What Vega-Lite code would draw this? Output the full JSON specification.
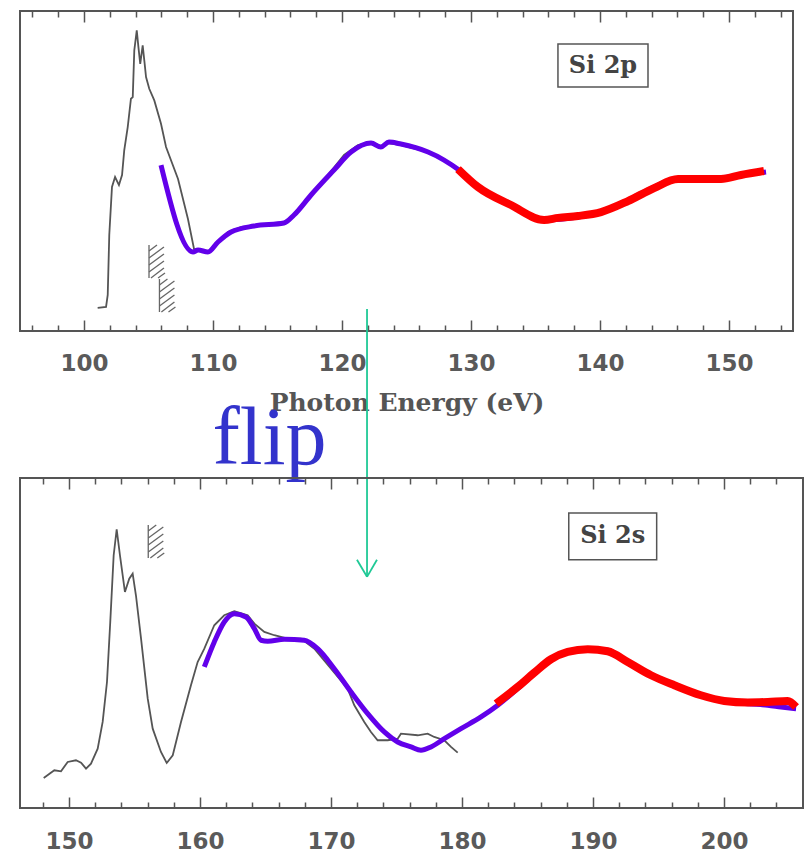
{
  "$schema": "https://vega.github.io/schema/vega-lite/v6.json",
  "padding": {"left": 19, "top": 9, "right": 0, "bottom": 0},
  "background": "white",
  "config": {"view": {"stroke": "#555", "strokeWidth": 2}},
  "bounds": "flush",
  "spacing": 147,
  "datasets": {
    "top_exp": [
      {"energy": 101.06, "intensity": 7.57}, {"energy": 101.71, "intensity": 7.89}, {"energy": 101.84, "intensity": 11.67},
      {"energy": 101.96, "intensity": 30.6}, {"energy": 102.17, "intensity": 45.74}, {"energy": 102.41, "intensity": 48.9},
      {"energy": 102.71, "intensity": 46.37}, {"energy": 102.95, "intensity": 49.5}, {"energy": 103.12, "intensity": 57.32},
      {"energy": 103.39, "intensity": 64.67}, {"energy": 103.64, "intensity": 73.6}, {"energy": 103.78, "intensity": 74.13},
      {"energy": 103.9, "intensity": 88.86}, {"energy": 104.09, "intensity": 95.17}, {"energy": 104.22, "intensity": 89.9},
      {"energy": 104.36, "intensity": 84.64}, {"energy": 104.55, "intensity": 90.44}, {"energy": 104.69, "intensity": 85.17},
      {"energy": 104.81, "intensity": 80.44}, {"energy": 105.06, "intensity": 76.75}, {"energy": 105.45, "intensity": 73.09},
      {"energy": 105.97, "intensity": 65.71}, {"energy": 106.36, "intensity": 58.36}, {"energy": 107.29, "intensity": 48.26},
      {"energy": 108.06, "intensity": 35.65}, {"energy": 108.53, "intensity": 26.18}, {"energy": 109.07, "intensity": 25.87},
      {"energy": 109.61, "intensity": 25.24}, {"energy": 110.39, "intensity": 28.39}, {"energy": 111.16, "intensity": 31.55},
      {"energy": 112.17, "intensity": 33.12}, {"energy": 113.72, "intensity": 33.75}, {"energy": 115.5, "intensity": 34.7},
      {"energy": 116.05, "intensity": 35.65}, {"energy": 117.6, "intensity": 43.22}, {"energy": 118.91, "intensity": 49.53},
      {"energy": 120.16, "intensity": 55.84}, {"energy": 121.24, "intensity": 58.99}, {"energy": 122.25, "intensity": 59.94},
      {"energy": 123.02, "intensity": 58.68}, {"energy": 123.57, "intensity": 59.62}, {"energy": 124.57, "intensity": 58.99},
      {"energy": 126.67, "intensity": 56.78}, {"energy": 127.91, "intensity": 54.26}, {"energy": 129.07, "intensity": 51.1},
      {"energy": 130.54, "intensity": 45.74}, {"energy": 133.1, "intensity": 40.06}, {"energy": 135.66, "intensity": 35.33},
      {"energy": 138.29, "intensity": 36.28}, {"energy": 140.08, "intensity": 37.85}, {"energy": 142.17, "intensity": 41.64},
      {"energy": 144.19, "intensity": 45.74}, {"energy": 145.74, "intensity": 48.26}, {"energy": 147.05, "intensity": 48.58},
      {"energy": 149.15, "intensity": 48.58}, {"energy": 150.93, "intensity": 49.53}, {"energy": 152.6, "intensity": 50.4}
    ],
    "top_fit": [
      {"energy": 105.97, "intensity": 52.68}, {"energy": 108.45, "intensity": 25.24}, {"energy": 108.84, "intensity": 25.87},
      {"energy": 109.61, "intensity": 25.24}, {"energy": 110.39, "intensity": 28.39}, {"energy": 111.4, "intensity": 31.55},
      {"energy": 113.18, "intensity": 33.44}, {"energy": 115.5, "intensity": 34.38}, {"energy": 116.28, "intensity": 36.91},
      {"energy": 117.6, "intensity": 43.22}, {"energy": 119.38, "intensity": 51.1}, {"energy": 120.7, "intensity": 56.78},
      {"energy": 122.25, "intensity": 59.62}, {"energy": 123.02, "intensity": 58.36}, {"energy": 123.64, "intensity": 59.94},
      {"energy": 124.57, "intensity": 59.31}, {"energy": 126.67, "intensity": 56.78}, {"energy": 127.91, "intensity": 54.26},
      {"energy": 129.07, "intensity": 51.1}, {"energy": 130.54, "intensity": 45.74}, {"energy": 133.1, "intensity": 40.06},
      {"energy": 135.66, "intensity": 35.33}, {"energy": 138.29, "intensity": 36.28}, {"energy": 140.08, "intensity": 37.85},
      {"energy": 142.17, "intensity": 41.64}, {"energy": 144.19, "intensity": 45.74}, {"energy": 145.74, "intensity": 48.26},
      {"energy": 147.05, "intensity": 48.58}, {"energy": 149.15, "intensity": 48.58}, {"energy": 150.93, "intensity": 49.53},
      {"energy": 152.87, "intensity": 50.47}
    ],
    "top_red": [
      {"energy": 128.99, "intensity": 51.42}, {"energy": 130.54, "intensity": 45.74}, {"energy": 133.1, "intensity": 40.06},
      {"energy": 135.66, "intensity": 35.33}, {"energy": 136.74, "intensity": 36.0}, {"energy": 138.29, "intensity": 36.6},
      {"energy": 140.08, "intensity": 37.85}, {"energy": 142.17, "intensity": 41.3}, {"energy": 144.19, "intensity": 45.4},
      {"energy": 146.05, "intensity": 48.26}, {"energy": 147.29, "intensity": 48.26}, {"energy": 149.38, "intensity": 48.26},
      {"energy": 150.93, "intensity": 49.53}, {"energy": 152.71, "intensity": 50.79}
    ],
    "top_rules": [
      {"kind": "hatch", "energy": 105.04, "intensity": 27.44, "energy2": 105.04, "intensity2": 17.03},
      {"kind": "hatch", "energy": 105.04, "intensity": 25.55, "energy2": 105.66, "intensity2": 27.44},
      {"kind": "hatch", "energy": 105.04, "intensity": 23.34, "energy2": 106.2, "intensity2": 26.81},
      {"kind": "hatch", "energy": 105.04, "intensity": 21.14, "energy2": 106.2, "intensity2": 24.61},
      {"kind": "hatch", "energy": 105.04, "intensity": 18.93, "energy2": 106.2, "intensity2": 22.4},
      {"kind": "hatch", "energy": 105.19, "intensity": 17.03, "energy2": 106.2, "intensity2": 20.19},
      {"kind": "hatch", "energy": 105.74, "intensity": 17.03, "energy2": 106.28, "intensity2": 18.61},
      {"kind": "hatch", "energy": 105.85, "intensity": 16.71, "energy2": 105.85, "intensity2": 6.3},
      {"kind": "hatch", "energy": 105.85, "intensity": 14.82, "energy2": 106.47, "intensity2": 16.71},
      {"kind": "hatch", "energy": 105.85, "intensity": 12.61, "energy2": 107.01, "intensity2": 16.08},
      {"kind": "hatch", "energy": 105.85, "intensity": 10.41, "energy2": 107.01, "intensity2": 13.88},
      {"kind": "hatch", "energy": 105.85, "intensity": 8.2, "energy2": 107.01, "intensity2": 11.67},
      {"kind": "hatch", "energy": 106.0, "intensity": 6.3, "energy2": 107.01, "intensity2": 9.46},
      {"kind": "hatch", "energy": 106.55, "intensity": 6.3, "energy2": 107.09, "intensity2": 7.88},
      {"kind": "arrow", "energy": 121.94, "intensity": 7.26, "energy2": 121.94, "intensity2": -77.29},
      {"kind": "arrow", "energy": 121.16, "intensity": -71.92, "energy2": 121.94, "intensity2": -77.29},
      {"kind": "arrow", "energy": 122.71, "intensity": -71.92, "energy2": 121.94, "intensity2": -77.29}
    ],
    "top_box": [{"energy": 136.74, "intensity": 90.85, "energy2": 143.72, "intensity2": 77.29, "label": "Si 2p"}],
    "top_note": [{"energy": 114.38, "intensity": -41.64, "label": "flip"}],
    "bot_exp": [
      {"energy": 148.07, "intensity": 10.3}, {"energy": 148.88, "intensity": 12.64}, {"energy": 149.39, "intensity": 12.33},
      {"energy": 149.9, "intensity": 15.15}, {"energy": 150.53, "intensity": 15.67}, {"energy": 150.92, "intensity": 14.94},
      {"energy": 151.3, "intensity": 13.12}, {"energy": 151.68, "intensity": 14.64}, {"energy": 152.19, "intensity": 19.18},
      {"energy": 152.57, "intensity": 27.27}, {"energy": 152.9, "intensity": 39.39}, {"energy": 153.15, "intensity": 57.58},
      {"energy": 153.41, "intensity": 77.79}, {"energy": 153.64, "intensity": 85.67}, {"energy": 153.89, "intensity": 77.79},
      {"energy": 154.27, "intensity": 66.67}, {"energy": 154.6, "intensity": 70.7}, {"energy": 154.86, "intensity": 72.21},
      {"energy": 155.11, "intensity": 65.67}, {"energy": 155.5, "intensity": 52.52}, {"energy": 156.01, "intensity": 34.33},
      {"energy": 156.39, "intensity": 25.24}, {"energy": 157.02, "intensity": 18.18}, {"energy": 157.46, "intensity": 14.85},
      {"energy": 157.92, "intensity": 17.18}, {"energy": 158.55, "intensity": 27.27}, {"energy": 159.31, "intensity": 38.39},
      {"energy": 159.82, "intensity": 45.45}, {"energy": 160.33, "intensity": 49.48}, {"energy": 161.09, "intensity": 56.58},
      {"energy": 161.85, "intensity": 59.61}, {"energy": 162.62, "intensity": 60.82}, {"energy": 163.64, "intensity": 59.61},
      {"energy": 164.15, "intensity": 57.06}, {"energy": 164.91, "intensity": 54.55}, {"energy": 165.67, "intensity": 53.55},
      {"energy": 166.69, "intensity": 52.52}, {"energy": 167.71, "intensity": 52.52}, {"energy": 168.73, "intensity": 49.48},
      {"energy": 170.0, "intensity": 43.42}, {"energy": 171.27, "intensity": 37.36}, {"energy": 171.78, "intensity": 32.33},
      {"energy": 172.54, "intensity": 27.27}, {"energy": 173.05, "intensity": 24.24}, {"energy": 173.56, "intensity": 21.73},
      {"energy": 174.33, "intensity": 21.73}, {"energy": 175.09, "intensity": 22.21}, {"energy": 175.34, "intensity": 23.73},
      {"energy": 176.62, "intensity": 23.24}, {"energy": 177.38, "intensity": 23.73}, {"energy": 177.88, "intensity": 22.73},
      {"energy": 178.65, "intensity": 21.73}, {"energy": 179.16, "intensity": 19.7}, {"energy": 179.67, "intensity": 17.97}
    ],
    "bot_fit": [
      {"energy": 160.33, "intensity": 43.94}, {"energy": 161.09, "intensity": 51.52}, {"energy": 161.85, "intensity": 57.58},
      {"energy": 162.62, "intensity": 60.09}, {"energy": 163.51, "intensity": 59.09}, {"energy": 164.15, "intensity": 55.55},
      {"energy": 164.66, "intensity": 52.03}, {"energy": 165.17, "intensity": 51.73}, {"energy": 166.44, "intensity": 52.33},
      {"energy": 167.96, "intensity": 52.03}, {"energy": 168.98, "intensity": 49.48}, {"energy": 170.25, "intensity": 43.42},
      {"energy": 171.53, "intensity": 36.36}, {"energy": 172.8, "intensity": 29.79}, {"energy": 174.07, "intensity": 24.24},
      {"energy": 175.09, "intensity": 21.21}, {"energy": 176.11, "intensity": 19.7}, {"energy": 176.87, "intensity": 18.7},
      {"energy": 177.63, "intensity": 19.7}, {"energy": 178.65, "intensity": 22.21}, {"energy": 179.92, "intensity": 25.24},
      {"energy": 181.45, "intensity": 28.79}, {"energy": 182.73, "intensity": 32.33}, {"energy": 184.25, "intensity": 37.36},
      {"energy": 185.52, "intensity": 41.91}, {"energy": 186.79, "intensity": 45.97}, {"energy": 188.07, "intensity": 48.48},
      {"energy": 189.6, "intensity": 49.48}, {"energy": 191.12, "intensity": 49.0}, {"energy": 192.65, "intensity": 45.45},
      {"energy": 194.43, "intensity": 41.42}, {"energy": 196.21, "intensity": 38.39}, {"energy": 198.24, "intensity": 35.36},
      {"energy": 200.02, "intensity": 33.55}, {"energy": 201.81, "intensity": 32.82}, {"energy": 203.34, "intensity": 32.33},
      {"energy": 204.35, "intensity": 31.82}, {"energy": 205.5, "intensity": 31.3}
    ],
    "bot_red": [
      {"energy": 182.6, "intensity": 32.82}, {"energy": 184.25, "intensity": 37.88}, {"energy": 185.52, "intensity": 42.21},
      {"energy": 186.79, "intensity": 46.27}, {"energy": 188.07, "intensity": 48.48}, {"energy": 189.6, "intensity": 49.3},
      {"energy": 191.12, "intensity": 48.7}, {"energy": 192.65, "intensity": 45.45}, {"energy": 194.43, "intensity": 41.42},
      {"energy": 196.21, "intensity": 38.39}, {"energy": 198.24, "intensity": 35.36}, {"energy": 200.02, "intensity": 33.64},
      {"energy": 201.81, "intensity": 33.18}, {"energy": 203.34, "intensity": 33.33}, {"energy": 204.86, "intensity": 33.64},
      {"energy": 205.5, "intensity": 31.82}
    ],
    "bot_rules": [
      {"kind": "hatch", "energy": 156.05, "intensity": 86.97, "energy2": 156.05, "intensity2": 76.97},
      {"kind": "hatch", "energy": 156.05, "intensity": 85.15, "energy2": 156.66, "intensity2": 86.97},
      {"kind": "hatch", "energy": 156.05, "intensity": 83.03, "energy2": 157.2, "intensity2": 86.36},
      {"kind": "hatch", "energy": 156.05, "intensity": 80.91, "energy2": 157.2, "intensity2": 84.24},
      {"kind": "hatch", "energy": 156.05, "intensity": 78.79, "energy2": 157.2, "intensity2": 82.12},
      {"kind": "hatch", "energy": 156.21, "intensity": 76.97, "energy2": 157.2, "intensity2": 80.0},
      {"kind": "hatch", "energy": 156.74, "intensity": 76.97, "energy2": 157.27, "intensity2": 78.48}
    ],
    "bot_box": [{"energy": 188.15, "intensity": 90.61, "energy2": 194.86, "intensity2": 76.45, "label": "Si 2s"}]
  },
  "vconcat": [
    {
      "width": 773,
      "height": 320,
      "encoding": {
        "x": {"field": "energy", "type": "quantitative", "scale": {"domain": [95.04, 154.96], "nice": false, "zero": false}, "axis": null},
        "y": {"field": "intensity", "type": "quantitative", "scale": {"domain": [0.3, 101.3], "nice": false, "zero": false}, "axis": null}
      },
      "resolve": {"axis": {"x": "independent"}},
      "layer": [
        {
          "data": {"name": "top_exp"},
          "mark": {"type": "line", "color": "#555", "strokeWidth": 1.8},
          "encoding": {
            "x": {"field": "energy", "type": "quantitative", "scale": {"domain": [95.04, 154.96], "nice": false, "zero": false},
              "axis": {"orient": "bottom", "values": [96,98,100,102,104,106,108,110,112,114,116,118,120,122,124,126,128,130,132,134,136,138,140,142,144,146,148,150,152,154],
                "domain": false, "grid": false, "tickColor": "#555", "tickWidth": 1.5,
                "tickSize": {"condition": {"test": "datum.value % 10 === 0", "value": -11}, "value": -6},
                "labelExpr": "datum.value % 10 === 0 ? datum.label : ''", "labelFont": "DejaVu Sans", "labelFontSize": 23, "labelFontWeight": "bold", "labelColor": "#5a5a5a",
                "labelPadding": 32, "labelFlush": false, "labelOverlap": false,
                "title": "Photon Energy (eV)", "titleFont": "DejaVu Serif", "titleFontSize": 25, "titleFontWeight": "bold", "titleColor": "#555", "titlePadding": 10}}
          }
        },
        {
          "data": {"name": "top_fit"},
          "mark": {"type": "line", "color": "#6200ea", "strokeWidth": 5, "interpolate": "monotone"},
          "encoding": {
            "x": {"field": "energy", "type": "quantitative", "scale": {"domain": [95.04, 154.96], "nice": false, "zero": false},
              "axis": {"orient": "top", "values": [96,98,100,102,104,106,108,110,112,114,116,118,120,122,124,126,128,130,132,134,136,138,140,142,144,146,148,150,152,154],
                "domain": false, "grid": false, "labels": false, "title": null, "tickColor": "#555", "tickWidth": 1.5,
                "tickSize": {"condition": {"test": "datum.value % 10 === 0", "value": -11}, "value": -6}}}
          }
        },
        {
          "data": {"name": "top_red"},
          "mark": {"type": "line", "color": "#ff0000", "strokeWidth": 8, "interpolate": "monotone"},
          "encoding": {}
        },
        {
          "data": {"name": "top_rules"},
          "mark": {"type": "rule"},
          "encoding": {
            "x2": {"field": "energy2"},
            "y2": {"field": "intensity2"},
            "color": {"field": "kind", "type": "nominal", "scale": {"domain": ["hatch", "arrow"], "range": ["#666", "#1fc996"]}, "legend": null},
            "strokeWidth": {"field": "kind", "type": "nominal", "scale": {"domain": ["hatch", "arrow"], "range": [1.3, 1.8]}, "legend": null}
          }
        },
        {
          "data": {"name": "top_box"},
          "mark": {"type": "rect", "fill": "white", "stroke": "#555", "strokeWidth": 1.5},
          "encoding": {"x2": {"field": "energy2"}, "y2": {"field": "intensity2"}}
        },
        {
          "data": {"name": "top_box"},
          "mark": {"type": "text", "font": "DejaVu Serif", "fontWeight": "bold", "fontSize": 24, "color": "#444", "align": "center", "baseline": "middle"},
          "encoding": {
            "x": {"datum": 140.23, "type": "quantitative"},
            "y": {"datum": 84.07, "type": "quantitative"},
            "text": {"field": "label"}
          }
        },
        {
          "data": {"name": "top_note"},
          "mark": {"type": "text", "font": "Liberation Serif", "fontSize": 82, "color": "#3333cc", "align": "center", "baseline": "alphabetic"},
          "encoding": {"text": {"field": "label"}}
        }
      ]
    },
    {
      "width": 783,
      "height": 330,
      "encoding": {
        "x": {"field": "energy", "type": "quantitative", "scale": {"domain": [146.26, 206.03], "nice": false, "zero": false}, "axis": null},
        "y": {"field": "intensity", "type": "quantitative", "scale": {"domain": [1.2, 101.2], "nice": false, "zero": false}, "axis": null}
      },
      "resolve": {"axis": {"x": "independent"}},
      "layer": [
        {
          "data": {"name": "bot_exp"},
          "mark": {"type": "line", "color": "#555", "strokeWidth": 1.8},
          "encoding": {
            "x": {"field": "energy", "type": "quantitative", "scale": {"domain": [146.26, 206.03], "nice": false, "zero": false},
              "axis": {"orient": "bottom", "values": [148,150,152,154,156,158,160,162,164,166,168,170,172,174,176,178,180,182,184,186,188,190,192,194,196,198,200,202,204],
                "domain": false, "grid": false, "tickColor": "#555", "tickWidth": 1.5,
                "tickSize": {"condition": {"test": "datum.value % 10 === 0", "value": -11}, "value": -6},
                "labelExpr": "datum.value % 10 === 0 ? datum.label : ''", "labelFont": "DejaVu Sans", "labelFontSize": 23, "labelFontWeight": "bold", "labelColor": "#5a5a5a",
                "labelPadding": 33, "labelFlush": false, "labelOverlap": false, "title": null}}
          }
        },
        {
          "data": {"name": "bot_fit"},
          "mark": {"type": "line", "color": "#6200ea", "strokeWidth": 5, "interpolate": "monotone"},
          "encoding": {
            "x": {"field": "energy", "type": "quantitative", "scale": {"domain": [146.26, 206.03], "nice": false, "zero": false},
              "axis": {"orient": "top", "values": [148,150,152,154,156,158,160,162,164,166,168,170,172,174,176,178,180,182,184,186,188,190,192,194,196,198,200,202,204],
                "domain": false, "grid": false, "labels": false, "title": null, "tickColor": "#555", "tickWidth": 1.5,
                "tickSize": {"condition": {"test": "datum.value % 10 === 0", "value": -11}, "value": -6}}}
          }
        },
        {
          "data": {"name": "bot_red"},
          "mark": {"type": "line", "color": "#ff0000", "strokeWidth": 8, "interpolate": "monotone"},
          "encoding": {}
        },
        {
          "data": {"name": "bot_rules"},
          "mark": {"type": "rule", "color": "#666", "strokeWidth": 1.3},
          "encoding": {"x2": {"field": "energy2"}, "y2": {"field": "intensity2"}}
        },
        {
          "data": {"name": "bot_box"},
          "mark": {"type": "rect", "fill": "white", "stroke": "#555", "strokeWidth": 1.5},
          "encoding": {"x2": {"field": "energy2"}, "y2": {"field": "intensity2"}}
        },
        {
          "data": {"name": "bot_box"},
          "mark": {"type": "text", "font": "DejaVu Serif", "fontWeight": "bold", "fontSize": 24, "color": "#444", "align": "center", "baseline": "middle"},
          "encoding": {
            "x": {"datum": 191.5, "type": "quantitative"},
            "y": {"datum": 83.5, "type": "quantitative"},
            "text": {"field": "label"}
          }
        }
      ]
    }
  ]
}
